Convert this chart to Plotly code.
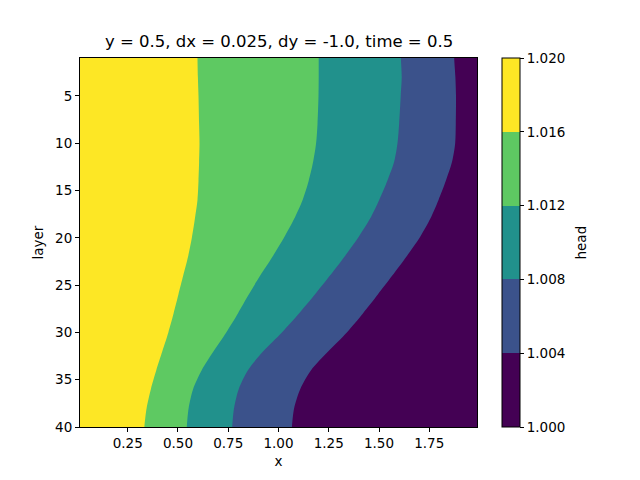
import plotly.graph_objects as go

# ---- data (contour boundaries of head field) ----
layers = [1, 3, 5, 8, 10, 12, 14, 16, 18, 20, 22, 24, 26, 28, 30, 32, 34, 36, 38, 40]
# x position of each contour line at the given layer
x_head_1016 = [0.597, 0.599, 0.602, 0.605, 0.607, 0.605, 0.602, 0.597, 0.584, 0.569,
               0.550, 0.526, 0.502, 0.478, 0.452, 0.422, 0.392, 0.365, 0.344, 0.333]
x_head_1012 = [1.200, 1.200, 1.199, 1.194, 1.187, 1.172, 1.150, 1.120, 1.078, 1.027,
               0.970, 0.909, 0.852, 0.798, 0.740, 0.677, 0.618, 0.575, 0.553, 0.544]
x_head_1008 = [1.609, 1.613, 1.608, 1.600, 1.592, 1.575, 1.541, 1.501, 1.455, 1.396,
               1.328, 1.256, 1.181, 1.102, 1.017, 0.924, 0.848, 0.802, 0.779, 0.770]
x_head_1004 = [1.874, 1.880, 1.883, 1.882, 1.879, 1.863, 1.832, 1.796, 1.755, 1.702,
               1.636, 1.566, 1.494, 1.420, 1.340, 1.248, 1.162, 1.108, 1.078, 1.067]

levels = [1.000, 1.004, 1.008, 1.012, 1.016, 1.020]
level_labels = ["1.000", "1.004", "1.008", "1.012", "1.016", "1.020"]
x_ticks = [0.25, 0.50, 0.75, 1.00, 1.25, 1.50, 1.75]
y_ticks = [5, 10, 15, 20, 25, 30, 35, 40]
x_min, x_max = 0.0125, 1.9875
layer_min, layer_max = 1, 40

# ---- styles ----
band_colors = ["#440154", "#3b528b", "#21918c", "#5ec962", "#fde725"]
FONT = "DejaVu Sans"
PAD_X = 0.3     # drawing padding outside the visible range (clipped)
PAD_L = 1.0

fig = go.Figure()

# cumulative bands: region left of each contour has head above that level
bounds = [x_head_1004, x_head_1008, x_head_1012, x_head_1016]
for i, b in enumerate(bounds):
    xl = x_min - PAD_X
    xs = [xl, b[0]] + list(b) + [b[-1], xl, xl]
    ys = ([layers[0] - PAD_L, layers[0] - PAD_L] + list(layers)
          + [layers[-1] + PAD_L, layers[-1] + PAD_L, layers[0] - PAD_L])
    fig.add_trace(go.Scatter(
        x=xs, y=ys, fill="toself", fillcolor=band_colors[i + 1],
        mode="lines", line=dict(width=0, color=band_colors[i + 1],
                                shape="spline", smoothing=0.8),
        hoverinfo="skip", showlegend=False))

# colorbar carrier
cs = []
n = len(band_colors)
for i, c in enumerate(band_colors):
    cs.append([i / n, c])
    cs.append([(i + 1) / n, c])
fig.add_trace(go.Scatter(
    x=[1.0, 1.0], y=[20, 20], mode="markers",
    marker=dict(size=0.1, opacity=0, color=[levels[0], levels[-1]],
                colorscale=cs, cmin=levels[0], cmax=levels[-1],
                showscale=True,
                colorbar=dict(
                    thickness=18, thicknessmode="pixels",
                    len=369, lenmode="pixels",
                    x=1.063, xanchor="left", xpad=0,
                    y=0.5, yanchor="middle", ypad=0,
                    outlinewidth=1, outlinecolor="black",
                    tickvals=levels, ticktext=level_labels,
                    ticks="outside", ticklen=4, tickwidth=1, tickcolor="black",
                    tickfont=dict(family=FONT, size=13.5, color="black"),
                )),
    hoverinfo="skip", showlegend=False))

fig.update_layout(
    width=640, height=480,
    margin=dict(l=80, r=163, t=58, b=53),
    paper_bgcolor="white", plot_bgcolor=band_colors[0],
    font=dict(family=FONT, size=13.5, color="black"),
    xaxis=dict(range=[x_min, x_max], tickvals=x_ticks, tickformat=".2f",
               showgrid=False, zeroline=False, showline=True, mirror=True,
               linecolor="black", linewidth=1, ticks="outside", ticklen=4,
               tickcolor="black",
               title=dict(text="x", standoff=6, font=dict(size=13.5))),
    yaxis=dict(range=[layer_max, layer_min], tickvals=y_ticks,
               showgrid=False, zeroline=False, showline=True, mirror=True,
               linecolor="black", linewidth=1, ticks="outside", ticklen=4,
               tickcolor="black",
               title=dict(text="layer", standoff=8, font=dict(size=13.5))),
    annotations=[
        dict(text="y = 0.5, dx = 0.025, dy = -1.0, time = 0.5",
             xref="paper", yref="paper", x=0.5, y=1, xanchor="center",
             yanchor="bottom", yshift=5, showarrow=False,
             font=dict(family=FONT, size=16.5, color="black")),
        dict(text="head", xref="paper", yref="paper", x=1.0 + (580 - 477) / 397,
             y=0.5, xanchor="center", yanchor="middle", textangle=-90,
             showarrow=False, font=dict(family=FONT, size=13.5, color="black")),
    ],
)

fig.write_html("out.html")
